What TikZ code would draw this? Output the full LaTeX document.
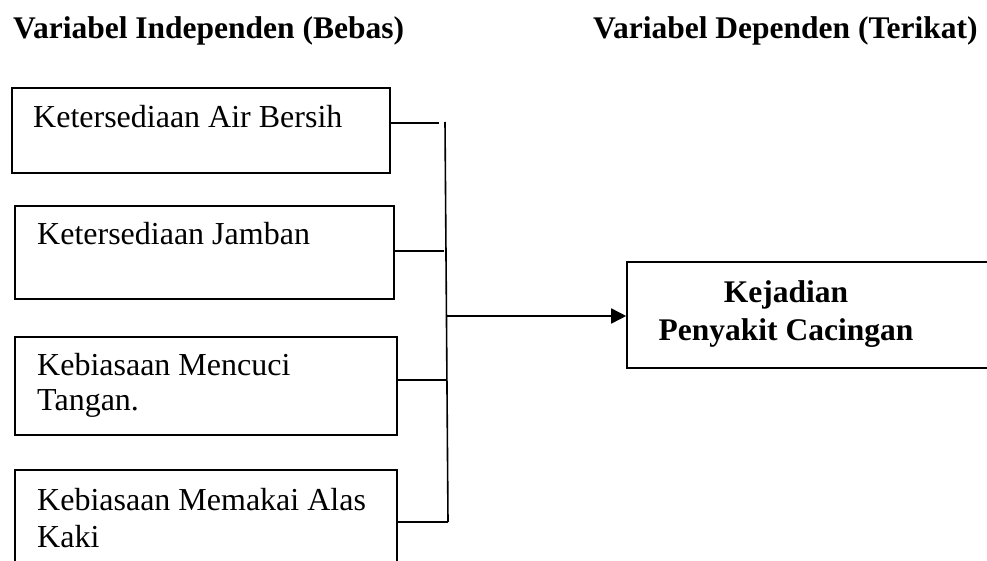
\documentclass[tikz,border=0pt]{standalone}
\usepackage{fontspec}
\setmainfont{Liberation Serif}
\usetikzlibrary{arrows.meta,calc}
\begin{document}
\begin{tikzpicture}[x=1pt,y=-1pt,
  box/.style={draw,line width=1.6pt,rectangle,inner sep=0pt},
  conn/.style={line width=1.6pt},
  lbl/.style={inner sep=0pt,anchor=base west,align=left,font=\fontsize{32}{35}\selectfont},
  ttl/.style={inner sep=0pt,anchor=base west,font=\fontsize{31.5}{35}\selectfont\bfseries},
  arr/.style={line width=1.6pt,-{Triangle[length=15pt,width=15pt]}}]
\useasboundingbox (0,0) rectangle (987,561);
\clip (0,0) rectangle (987,561);
% titles
\node[ttl] (t1) at (13,39) {Variabel Independen (Bebas)};
\node[ttl] (t2) at (593,39) {Variabel Dependen (Terikat)};
% boxes
\node[box,minimum width=378pt,minimum height=85pt] (b1) at (201,130.5) {};
\node[box,minimum width=379pt,minimum height=93pt] (b2) at (204.5,252.5) {};
\node[box,minimum width=382pt,minimum height=98pt] (b3) at (206,386) {};
\node[box,minimum width=382pt,minimum height=140pt] (b4) at (206,540) {};
\node[box,minimum width=400pt,minimum height=106pt] (tg) at (827,315) {};
% texts (multi-line nodes are placed by the baseline of their last line)
\node[lbl] (l1) at (33,128) {Ketersediaan Air Bersih};
\node[lbl] (l2) at (37,244) {Ketersediaan Jamban};
\node[lbl] (l3) at (37,410) {Kebiasaan Mencuci\\Tangan.};
\node[lbl,font=\fontsize{32}{37}\selectfont] (l4) at (37,547) {Kebiasaan Memakai Alas\\Kaki};
\node[inner sep=0pt,anchor=base,align=center,font=\fontsize{31.5}{38}\selectfont\bfseries] (lt) at (786,340) {Kejadian\\Penyakit Cacingan};
% connectors
\coordinate (vt) at (445,122);
\coordinate (vb) at (448,522);
\coordinate (j1) at (439,123);
\coordinate (j2) at (444,251);
\coordinate (j3) at (447,380);
\coordinate (j4) at (448,522);
\coordinate (jm) at (446,316);
\draw[conn] (vt) -- (vb);
\draw[conn] (j1 -| b1.east) -- (j1);
\draw[conn] (j2 -| b2.east) -- (j2);
\draw[conn] (j3 -| b3.east) -- (j3);
\draw[conn] (j4 -| b4.east) -- (j4);
\draw[arr] (jm) -- (jm -| tg.west);
\end{tikzpicture}
\end{document}
